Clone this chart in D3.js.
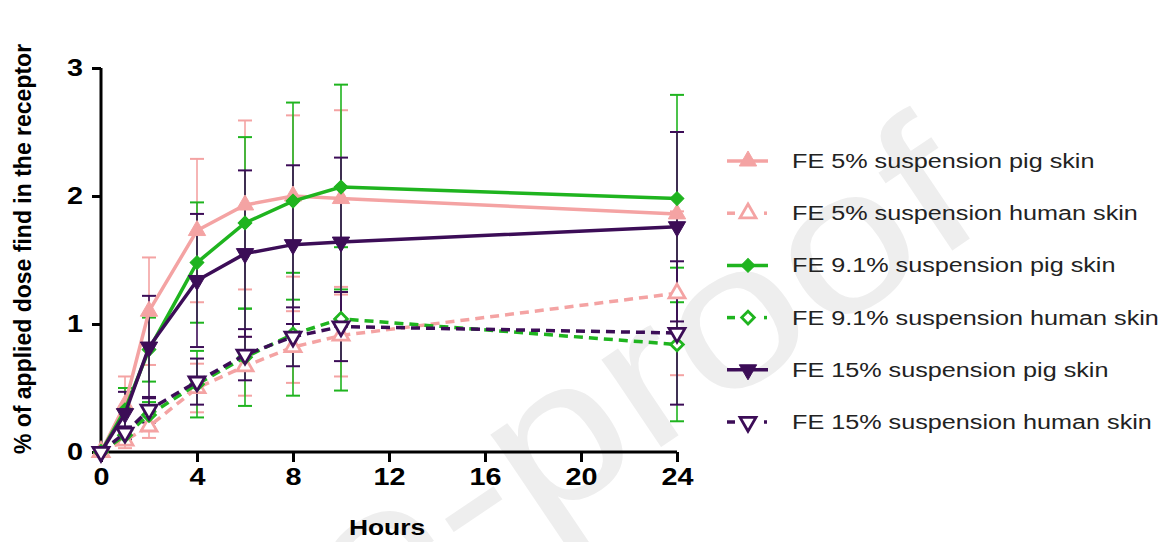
<!DOCTYPE html>
<html>
<head>
<meta charset="utf-8">
<script src="https://cdn.jsdelivr.net/npm/d3@7"></script>
<style>
  body { margin: 0; background: #fff; }
  text { font-family: "Liberation Sans", Arial, sans-serif; }
</style>
</head>
<body>
<div id="chart"></div>
<script>
// sampling times (h)
var hours = [0, 1, 2, 4, 6, 8, 10, 24];
var xTicks = [0, 4, 8, 12, 16, 20, 24];
var yTicks = [0, 1, 2, 3];

var seriesNames = [
    "FE 5% suspension pig skin",
    "FE 5% suspension human skin",
    "FE 9.1% suspension pig skin",
    "FE 9.1% suspension human skin",
    "FE 15% suspension pig skin",
    "FE 15% suspension human skin"
];

var pig5      = [0, 0.37, 1.10, 1.73, 1.93, 2.00, 1.98, 1.86];
var pig5Sd    = [0, 0.22, 0.42, 0.56, 0.66, 0.63, 0.69, 0.64];
var human5    = [0, 0.09, 0.20, 0.50, 0.67, 0.82, 0.91, 1.24];
var human5Sd  = [0, 0.06, 0.09, 0.19, 0.23, 0.28, 0.32, 0.64];
var pig91     = [0, 0.33, 0.80, 1.48, 1.79, 1.96, 2.07, 1.98];
var pig91Sd   = [0, 0.17, 0.25, 0.47, 0.67, 0.77, 0.80, 0.81];
var human91   = [0, 0.13, 0.29, 0.53, 0.74, 0.92, 1.04, 0.84];
var human91Sd = [0, 0.06, 0.10, 0.26, 0.38, 0.48, 0.56, 0.60];
var pig15     = [0, 0.30, 0.82, 1.34, 1.55, 1.62, 1.64, 1.76];
var pig15Sd   = [0, 0.17, 0.40, 0.52, 0.65, 0.62, 0.66, 0.74];
var human15   = [0, 0.15, 0.33, 0.55, 0.76, 0.90, 0.98, 0.93];
var human15Sd = [0, 0.05, 0.10, 0.18, 0.20, 0.23, 0.27, 0.56];

function init() {
    var w = 1168, h = 542;
    var pink = "#f4a3a3", green = "#1fb41f", purple = "#3c0d57";
    var stretch = "scale(1.2,1)";   // the source figure is a bit wide

    var series = [
        {name: seriesNames[0], mean: pig5,    sd: pig5Sd,    color: pink,   shape: "up",      open: false},
        {name: seriesNames[1], mean: human5,  sd: human5Sd,  color: pink,   shape: "up",      open: true},
        {name: seriesNames[2], mean: pig91,   sd: pig91Sd,   color: green,  shape: "diamond", open: false},
        {name: seriesNames[3], mean: human91, sd: human91Sd, color: green,  shape: "diamond", open: true},
        {name: seriesNames[4], mean: pig15,   sd: pig15Sd,   color: purple, shape: "down",    open: false},
        {name: seriesNames[5], mean: human15, sd: human15Sd, color: purple, shape: "down",    open: true}
    ];

    var xscale = d3.scaleLinear().domain([0, 24]).range([101, 677]);
    var yscale = d3.scaleLinear().domain([0, 3]).range([452, 68]);

    var svg = d3.select("#chart").append("svg")
        .attr("width", w).attr("height", h);

    // watermark
    svg.append("text")
        .attr("transform", "translate(990,225) rotate(-34) " + stretch)
        .attr("text-anchor", "end")
        .attr("font-size", 200)
        .attr("fill", "#eeeeee")
        .text("re-proof");

    // axes
    var xAxis = d3.axisBottom(xscale).tickValues(xTicks).tickSize(10).tickPadding(6)
        .tickFormat(d3.format("d"));
    var yAxis = d3.axisLeft(yscale).tickValues(yTicks).tickSize(9).tickPadding(6)
        .tickFormat(d3.format("d"));

    var gx = svg.append("g").attr("transform", "translate(0,452)").call(xAxis);
    var gy = svg.append("g").attr("transform", "translate(101,0)").call(yAxis);
    [gx, gy].forEach(function(g) {
        g.select(".domain").attr("stroke", "#000").attr("stroke-width", 3);
        g.selectAll(".tick line").attr("stroke", "#000").attr("stroke-width", 3);
        g.selectAll(".tick text")
            .attr("font-family", "Liberation Sans, Arial, sans-serif")
            .attr("font-size", 24).attr("font-weight", "bold").attr("fill", "#000")
            .attr("transform", stretch);
    });
    gx.select(".domain").attr("d", "M101,0H677");
    gy.select(".domain").attr("d", "M0,68V452");

    svg.append("text")
        .attr("transform", "translate(387,535) " + stretch)
        .attr("text-anchor", "middle")
        .attr("font-size", 22).attr("font-weight", "bold")
        .text("Hours");

    svg.append("text")
        .attr("transform", "translate(31,249) rotate(-90)")
        .attr("text-anchor", "middle")
        .attr("font-size", 23).attr("font-weight", "bold")
        .text("% of applied dose find in the receptor");

    function symbolPath(shape, open) {
        if (shape == "diamond") {
            return d3.symbol().type(d3.symbolSquare).size(open ? 80 : 95)();
        }
        return d3.symbol().type(d3.symbolTriangle).size(open ? 110 : 130)();
    }
    function symbolTransform(shape, x, y) {
        if (shape == "diamond") return "translate(" + x + "," + y + ") rotate(45)";
        if (shape == "down") return "translate(" + x + "," + y + ") rotate(180)";
        return "translate(" + x + "," + y + ")";
    }

    var line = d3.line()
        .x(function(d) { return xscale(d[0]); })
        .y(function(d) { return yscale(d[1]); });

    // error bars
    series.forEach(function(s) {
        var g = svg.append("g");
        hours.forEach(function(t, i) {
            if (s.sd[i] <= 0) return;
            var x = xscale(t);
            var y1 = yscale(s.mean[i] + s.sd[i]);
            var y2 = yscale(s.mean[i] - s.sd[i]);
            g.append("line").attr("x1", x).attr("x2", x).attr("y1", y1).attr("y2", y2)
                .attr("stroke", s.color).attr("stroke-width", 1.6);
            [y1, y2].forEach(function(yy) {
                g.append("line").attr("x1", x - 7).attr("x2", x + 7).attr("y1", yy).attr("y2", yy)
                    .attr("stroke", s.color).attr("stroke-width", 2);
            });
        });
    });

    // lines and markers
    series.forEach(function(s) {
        var pts = hours.map(function(t, i) { return [t, s.mean[i]]; });
        svg.append("path")
            .attr("d", line(pts))
            .attr("fill", "none")
            .attr("stroke", s.color)
            .attr("stroke-width", 3.5)
            .attr("stroke-dasharray", s.open ? "9,6" : null);
        svg.selectAll(null)
            .data(pts)
            .enter()
            .append("path")
            .attr("d", symbolPath(s.shape, s.open))
            .attr("transform", function(d) { return symbolTransform(s.shape, xscale(d[0]), yscale(d[1])); })
            .attr("fill", s.open ? "#fff" : s.color)
            .attr("stroke", s.color)
            .attr("stroke-width", s.open ? 2.8 : 1);
    });

    // legend
    var legend = svg.append("g");
    series.forEach(function(s, i) {
        var cy = 161 + i * 52.2;
        if (s.open) {
            legend.append("line").attr("x1", 727).attr("x2", 735).attr("y1", cy).attr("y2", cy)
                .attr("stroke", s.color).attr("stroke-width", 3.5);
            legend.append("line").attr("x1", 764).attr("x2", 767).attr("y1", cy).attr("y2", cy)
                .attr("stroke", s.color).attr("stroke-width", 3.5);
        } else {
            legend.append("line").attr("x1", 727).attr("x2", 768).attr("y1", cy).attr("y2", cy)
                .attr("stroke", s.color).attr("stroke-width", 3.5);
        }
        legend.append("path")
            .attr("d", symbolPath(s.shape, s.open))
            .attr("transform", symbolTransform(s.shape, 748, cy))
            .attr("fill", s.open ? "#fff" : s.color)
            .attr("stroke", s.color)
            .attr("stroke-width", s.open ? 2.8 : 1);
        legend.append("text")
            .attr("transform", "translate(792," + (cy + 7) + ") " + stretch)
            .attr("font-size", 21)
            .attr("fill", "#222")
            .text(s.name);
    });
}

window.onload = init;
</script>
</body>
</html>
